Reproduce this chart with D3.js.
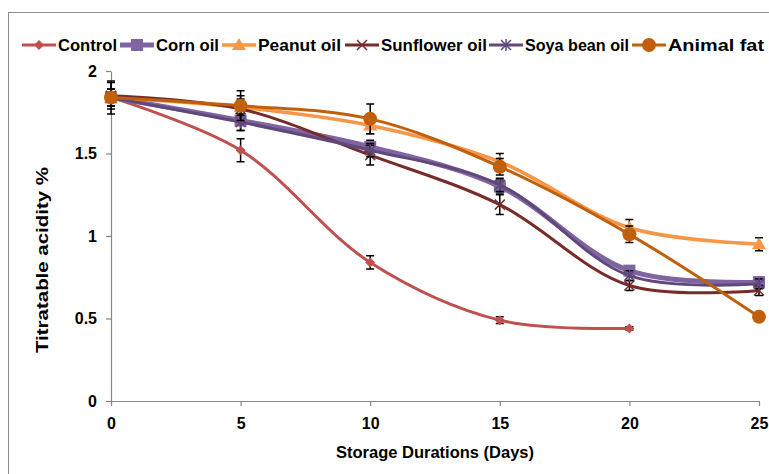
<!DOCTYPE html>
<html><head><meta charset="utf-8">
<script src="https://cdn.jsdelivr.net/npm/d3@7"></script>
<style>body{margin:0;background:#fff}svg{display:block}text{font-family:"Liberation Sans",Arial,sans-serif;font-weight:bold;fill:#000}</style>
</head><body><svg id="c" width="769" height="474"></svg>
<script>
const days = [0, 5, 10, 15, 20, 25];
const seriesNames = ["Control", "Corn oil", "Peanut oil", "Sunflower oil", "Soya bean oil", "Animal fat"];
const control = [1.84, 1.52, 0.84, 0.49, 0.44];
const cornOil = [1.84, 1.70, 1.54, 1.30, 0.79, 0.72];
const peanutOil = [1.84, 1.78, 1.67, 1.45, 1.05, 0.95];
const sunflowerOil = [1.85, 1.77, 1.49, 1.19, 0.70, 0.67];
const soyaBeanOil = [1.84, 1.69, 1.52, 1.31, 0.76, 0.71];
const animalFat = [1.84, 1.79, 1.71, 1.42, 1.01, 0.51];
const controlErr = [0.10, 0.07, 0.04, 0.02, 0.01];
const cornErr = [0.05, 0.06, 0.04, 0.04, 0.03, 0.03];
const peanutErr = [0.05, 0.05, 0.05, 0.05, 0.05, 0.04];
const sunflowerErr = [0.08, 0.08, 0.06, 0.06, 0.03, 0.03];
const soyaErr = [0.05, 0.05, 0.04, 0.04, 0.03, 0.03];
const animalErr = [0.05, 0.09, 0.09, 0.05, 0.05, 0.0];
const xTicks = [0, 5, 10, 15, 20, 25];
const yTicks = [0, 0.5, 1, 1.5, 2];

const series = [
  {name: seriesNames[0], vals: control, err: controlErr, color: "#C0504D", w: 3, marker: "diamond"},
  {name: seriesNames[1], vals: cornOil, err: cornErr, color: "#8064A2", w: 5, marker: "square"},
  {name: seriesNames[2], vals: peanutOil, err: peanutErr, color: "#F79646", w: 3.5, marker: "triangle"},
  {name: seriesNames[3], vals: sunflowerOil, err: sunflowerErr, color: "#772C2A", w: 3, marker: "x"},
  {name: seriesNames[4], vals: soyaBeanOil, err: soyaErr, color: "#5F497A", w: 3, marker: "star"},
  {name: seriesNames[5], vals: animalFat, err: animalErr, color: "#C0600C", w: 3, marker: "circle"}
];

const svg = d3.select("#c");
svg.append("rect").attr("x", 8.5).attr("y", 12.5).attr("width", 775).attr("height", 475)
  .attr("fill", "none").attr("stroke", "#8c8c8c").attr("stroke-width", 1);

const x = d3.scaleLinear().domain([0, 25]).range([111, 759]);
const y = d3.scaleLinear().domain([0, 2]).range([401, 71]);

const xAxis = svg.append("g").attr("transform", "translate(0,401)")
  .call(d3.axisBottom(x).tickValues(xTicks).tickSize(5).tickSizeOuter(0).tickPadding(12).tickFormat(d3.format("d")));
const yAxis = svg.append("g").attr("transform", "translate(111,0)")
  .call(d3.axisLeft(y).tickValues(yTicks).tickSize(5).tickSizeOuter(0).tickPadding(9).tickFormat(d => d));
[xAxis, yAxis].forEach(a => {
  a.selectAll("path,line").attr("stroke", "#868686").attr("stroke-width", 1.2);
  a.selectAll("text").style("font-size", "16px").style("font-family", "Liberation Sans, Arial, sans-serif").style("font-weight", "bold").attr("fill", "#000");
});

svg.append("text").attr("x", 435).attr("y", 458).attr("text-anchor", "middle")
  .style("font-size", "16px").attr("textLength", 198).attr("lengthAdjust", "spacingAndGlyphs")
  .text("Storage Durations (Days)");
svg.append("text").attr("transform", "translate(48,260) rotate(-90)").attr("text-anchor", "middle")
  .style("font-size", "16px").attr("textLength", 186).attr("lengthAdjust", "spacingAndGlyphs")
  .text("Titratable acidity %");

const line = d3.line().x(d => x(d[0])).y(d => y(d[1])).curve(d3.curveCatmullRom.alpha(0.5));

function drawMarker(g, type, cx, cy, color) {
  if (type === "diamond") {
    g.append("path").attr("d", `M${cx},${cy-5}L${cx+5},${cy}L${cx},${cy+5}L${cx-5},${cy}Z`).attr("fill", color);
  } else if (type === "square") {
    g.append("rect").attr("x", cx-6).attr("y", cy-6).attr("width", 12).attr("height", 12).attr("fill", color);
  } else if (type === "triangle") {
    g.append("path").attr("d", `M${cx},${cy-7}L${cx+7},${cy+5}L${cx-7},${cy+5}Z`).attr("fill", color);
  } else if (type === "x") {
    g.append("path").attr("d", `M${cx-5},${cy-5}L${cx+5},${cy+5}M${cx-5},${cy+5}L${cx+5},${cy-5}`).attr("stroke", color).attr("stroke-width", 1.5);
  } else if (type === "star") {
    g.append("path").attr("d", `M${cx-5},${cy-5}L${cx+5},${cy+5}M${cx-5},${cy+5}L${cx+5},${cy-5}M${cx},${cy-6}L${cx},${cy+6}`).attr("stroke", color).attr("stroke-width", 1.5);
  } else if (type === "circle") {
    g.append("circle").attr("cx", cx).attr("cy", cy).attr("r", 7).attr("fill", color);
  }
}

const plot = svg.append("g");
series.forEach(s => {
  const pts = s.vals.map((v, i) => [days[i], v]);
  const g = plot.append("g");
  g.append("path").attr("d", line(pts)).attr("fill", "none").attr("stroke", s.color).attr("stroke-width", s.w)
    .attr("stroke-linecap", "round");
  pts.forEach((p, i) => {
    const e = s.err[i];
    if (e <= 0) return;
    const cx = x(p[0]), y1 = y(p[1] + e), y2 = y(p[1] - e);
    g.append("path").attr("d", `M${cx},${y1}L${cx},${y2}M${cx-4},${y1}L${cx+4},${y1}M${cx-4},${y2}L${cx+4},${y2}`)
      .attr("stroke", "#000").attr("stroke-width", 1.5).attr("fill", "none");
  });
  pts.forEach(p => drawMarker(g, s.marker, x(p[0]), y(p[1]), s.color));
});

const legendX = [22, 120, 222, 345, 489, 632];
const legendTextW = [59, 63, 83, 106, 104, 96];
series.forEach((s, i) => {
  const g = svg.append("g");
  const lx = legendX[i], ly = 45;
  g.append("line").attr("x1", lx).attr("x2", lx + 34).attr("y1", ly).attr("y2", ly)
    .attr("stroke", s.color).attr("stroke-width", s.w);
  drawMarker(g, s.marker, lx + 17, ly, s.color);
  g.append("text").attr("x", lx + 36).attr("y", ly + 6).style("font-size", "16.5px")
    .attr("textLength", legendTextW[i]).attr("lengthAdjust", "spacingAndGlyphs").text(s.name);
});
</script></body></html>
